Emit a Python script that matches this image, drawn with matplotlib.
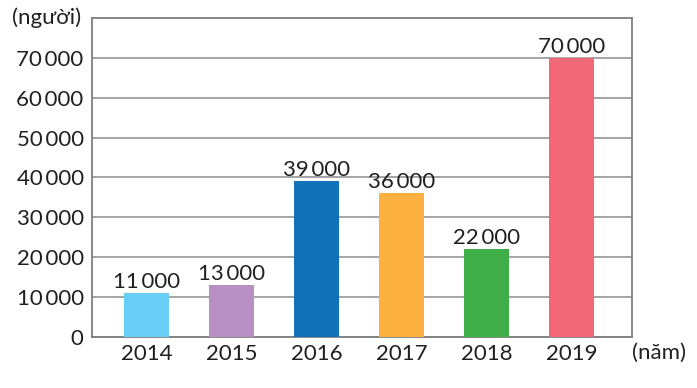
import numpy as np
import matplotlib.pyplot as plt

plt.rcParams['font.family'] = ['Lato', 'DejaVu Sans']

# data
years = ['2014', '2015', '2016', '2017', '2018', '2019']
visitors = [11000, 13000, 39000, 36000, 22000, 70000]
colors = ['#6ACFF6', '#B78FC2', '#1172BA', '#FBB040', '#3FAE49', '#F26877']
y_ticks = [0, 10000, 20000, 30000, 40000, 50000, 60000, 70000]


def fmt(v):
    s = f'{v:,}'.replace(',', '\u2009')
    return s


fig = plt.figure(figsize=(6.97, 3.88), dpi=100)
ax = fig.add_axes([92 / 697, 1 - 337 / 388, 540 / 697, 319 / 388])

x = np.arange(len(years))
ax.bar(x, visitors, width=0.53, color=colors, zorder=3)

for xi, v in zip(x, visitors):
    ax.text(xi, v + 300, fmt(v), ha='center', va='bottom', fontsize=16,
            color='#231F20', zorder=4)

ax.set_xlim(-0.64, 5.71)
ax.set_ylim(0, 80000)
ax.set_yticks(y_ticks)
ax.set_yticklabels([fmt(v) for v in y_ticks])
ax.set_xticks(x)
ax.set_xticklabels(years)
ax.tick_params(length=0, labelsize=16, colors='#231F20')
ax.tick_params(axis='y', pad=6)
ax.tick_params(axis='x', pad=5)

ax.grid(axis='y', color='#8C8C8C', linewidth=1.1, zorder=1)
for sp in ax.spines.values():
    sp.set_color('#7F7F7F')
    sp.set_linewidth(1.3)

fig.text(47 / 697, 1 - 18 / 388, '(người)', ha='center', va='center',
         fontsize=16, color='#231F20')
fig.text(659 / 697, 1 - 353 / 388, '(năm)', ha='center', va='center',
         fontsize=16, color='#231F20')

fig.savefig('out.png', dpi=100)
